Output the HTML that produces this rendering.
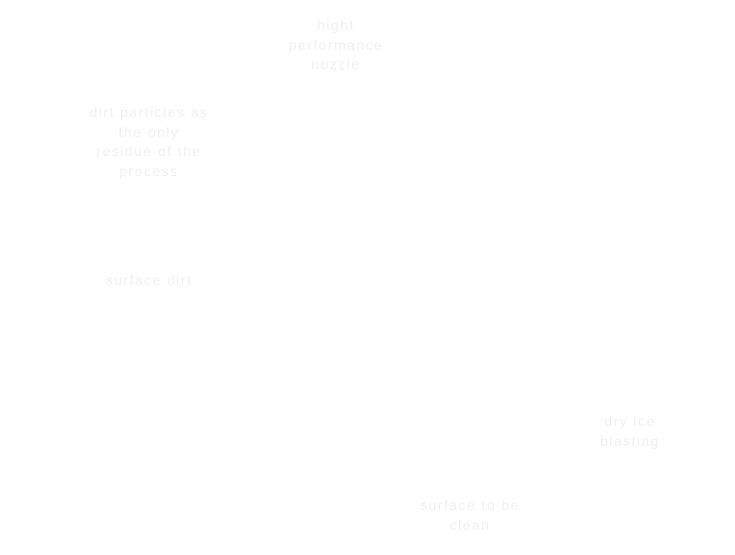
<!DOCTYPE html>
<html>
<head>
<meta charset="utf-8">
<style>
  html, body { margin:0; padding:0; background:#ffffff; }
  body { width:735px; height:555px; position:relative; overflow:hidden;
         font-family:"Liberation Sans", sans-serif; }
  .t { position:absolute; width:200px; text-align:center; font-size:14px;
       line-height:19.5px; letter-spacing:1.45px; color:#f2f0ec; }
</style>
</head>
<body>
  <div class="t" style="left:236px; top:16px;">hight<br>performance<br>nozzle</div>
  <div class="t" style="left:49px; top:103px;">dirt particles as<br>the only<br>residue of the<br>process</div>
  <div class="t" style="left:49px; top:271px;">surface dirt</div>
  <div class="t" style="left:530px; top:412px;">dry ice<br>blasting</div>
  <div class="t" style="left:370px; top:496px;">surface to be<br>clean</div>
</body>
</html>
